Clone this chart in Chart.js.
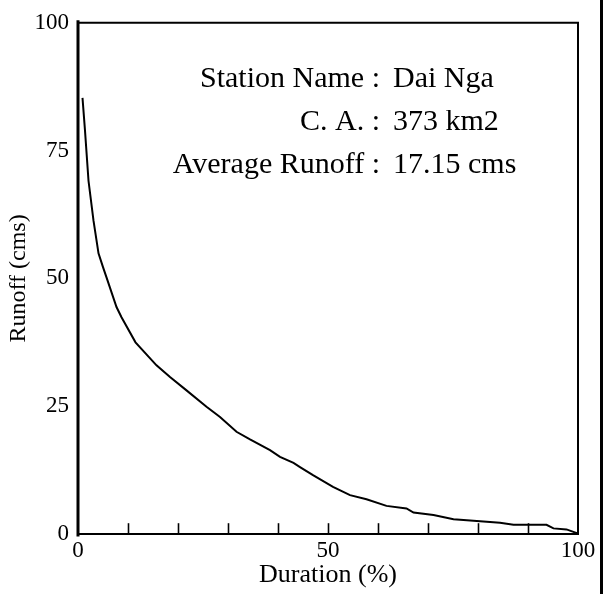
<!DOCTYPE html>
<html>
<head>
<meta charset="utf-8">
<title>Flow duration curve - Dai Nga</title>
<script src="https://cdn.jsdelivr.net/npm/chart.js@4.4.1/dist/chart.umd.min.js"></script>
<style>
    html, body { margin: 0; padding: 0; background: #fff; }
    #fdc { display: block; }
</style>
</head>
<body>
<canvas id="fdc" width="604" height="594"></canvas>
<script>
// Flow duration curve, runoff exceeded for given share of time
const durationPct = [0.9, 1.4, 2.1, 3.1, 4.1, 5.0, 5.7, 7.7, 8.7, 11.5, 15.7, 18.4, 21.7, 25.7, 28.4, 31.7,
    34.4, 38.4, 40.4, 43.1, 44.4, 47.0, 51.0, 54.4, 57.7, 61.7, 65.7, 67.1, 71.1, 75.1, 79.1, 84.4,
    87.1, 93.7, 95.1, 97.7, 100];
const runoffCms = [85.3, 78.9, 69.1, 61.3, 54.9, 52.2, 50.2, 44.4, 42.4, 37.5, 33.0, 30.7, 28.1, 24.9, 22.9, 20.0,
    18.5, 16.4, 15.1, 13.9, 13.1, 11.5, 9.2, 7.6, 6.8, 5.5, 5.0, 4.2, 3.7, 2.9, 2.6, 2.2,
    1.8, 1.8, 1.1, 0.9, 0.1];

// tick labels shown on the duration axis (minor ticks every 10 are unlabeled)
const xTickLabels = [0, 50, 100];
const yTickStep = 25;

// station info block
const infoLabels = ['Station Name :', 'C. A. :', 'Average Runoff :'];
const infoValues = ['Dai Nga', '373 km2', '17.15 cms'];

const SERIF = '"Liberation Serif", "Times New Roman", serif';

let points = durationPct.map((d, i) => ({x: d, y: runoffCms[i]}));

// Frame, inward minor ticks on the bottom axis and the station info text
const framePlugin = {
    id: 'frame',
    afterDatasetsDraw(chart) {
        let ctx = chart.ctx;
        let a = chart.chartArea;
        let xs = chart.scales.x;
        ctx.save();
        ctx.strokeStyle = '#000';
        ctx.lineCap = 'square';

        // minor ticks pointing into the plot
        ctx.lineWidth = 1.6;
        for (let t of xs.ticks) {
            if (t.value <= xs.min || t.value >= xs.max)
                continue;
            let px = Math.round(xs.getPixelForValue(t.value)) + 0.5;
            ctx.beginPath();
            ctx.moveTo(px, a.bottom);
            ctx.lineTo(px, a.bottom - 10);
            ctx.stroke();
        }

        // box
        ctx.lineWidth = 2;
        ctx.beginPath();
        ctx.moveTo(a.left, a.top);
        ctx.lineTo(a.right, a.top);
        ctx.lineTo(a.right, a.bottom);
        ctx.lineTo(a.left, a.bottom);
        ctx.stroke();
        ctx.lineWidth = 3;
        ctx.beginPath();
        ctx.moveTo(a.left, a.top - 1);
        ctx.lineTo(a.left, a.bottom + 1);
        ctx.stroke();

        // edge rule at the far right of the sheet
        ctx.lineWidth = 3;
        ctx.beginPath();
        ctx.moveTo(chart.width - 2.5, 0);
        ctx.lineTo(chart.width - 2.5, chart.height);
        ctx.stroke();

        // station info, labels end at the colon, values start after it
        ctx.fillStyle = '#000';
        ctx.font = '30px ' + SERIF;
        ctx.textBaseline = 'alphabetic';
        let colonX = a.left + 302;
        let valueX = a.left + 315;
        let base = a.top + 64;
        for (let i = 0; i < infoLabels.length; i++) {
            let y = base + i * 43;
            ctx.textAlign = 'right';
            ctx.fillText(infoLabels[i], colonX, y);
            ctx.textAlign = 'left';
            ctx.fillText(infoValues[i], valueX, y);
        }
        ctx.restore();
    }
};

new Chart(document.getElementById('fdc'), {
    type: 'line',
    data: {
        datasets: [{
            label: 'Runoff',
            data: points,
            borderColor: '#000',
            borderWidth: 2,
            pointRadius: 0,
            tension: 0,
            fill: false
        }]
    },
    options: {
        responsive: false,
        animation: false,
        events: [],
        layout: {
            padding: {top: 22, right: 26, bottom: 2, left: 0}
        },
        plugins: {
            legend: {display: false},
            tooltip: {enabled: false}
        },
        scales: {
            x: {
                type: 'linear',
                min: 0,
                max: 100,
                grid: {display: false, drawTicks: false},
                border: {display: false},
                ticks: {
                    stepSize: 10,
                    autoSkip: false,
                    maxRotation: 0,
                    padding: 3,
                    color: '#000',
                    font: {family: SERIF, size: 23},
                    callback: (v) => xTickLabels.includes(v) ? String(v) : ''
                },
                title: {
                    display: true,
                    text: 'Duration (%)',
                    color: '#000',
                    font: {family: SERIF, size: 26},
                    padding: {top: 0, bottom: 1}
                },
                afterFit(scale) {
                    scale.height = 58;
                }
            },
            y: {
                type: 'linear',
                min: 0,
                max: 100,
                grid: {display: false, drawTicks: false},
                border: {display: false},
                ticks: {
                    stepSize: yTickStep,
                    padding: 9,
                    color: '#000',
                    font: {family: SERIF, size: 23}
                },
                title: {
                    display: true,
                    text: 'Runoff (cms)',
                    color: '#000',
                    font: {family: SERIF, size: 24},
                    padding: {top: 4, bottom: 0}
                },
                afterFit(scale) {
                    scale.width = 78;
                }
            }
        }
    },
    plugins: [framePlugin]
});
</script>
</body>
</html>
